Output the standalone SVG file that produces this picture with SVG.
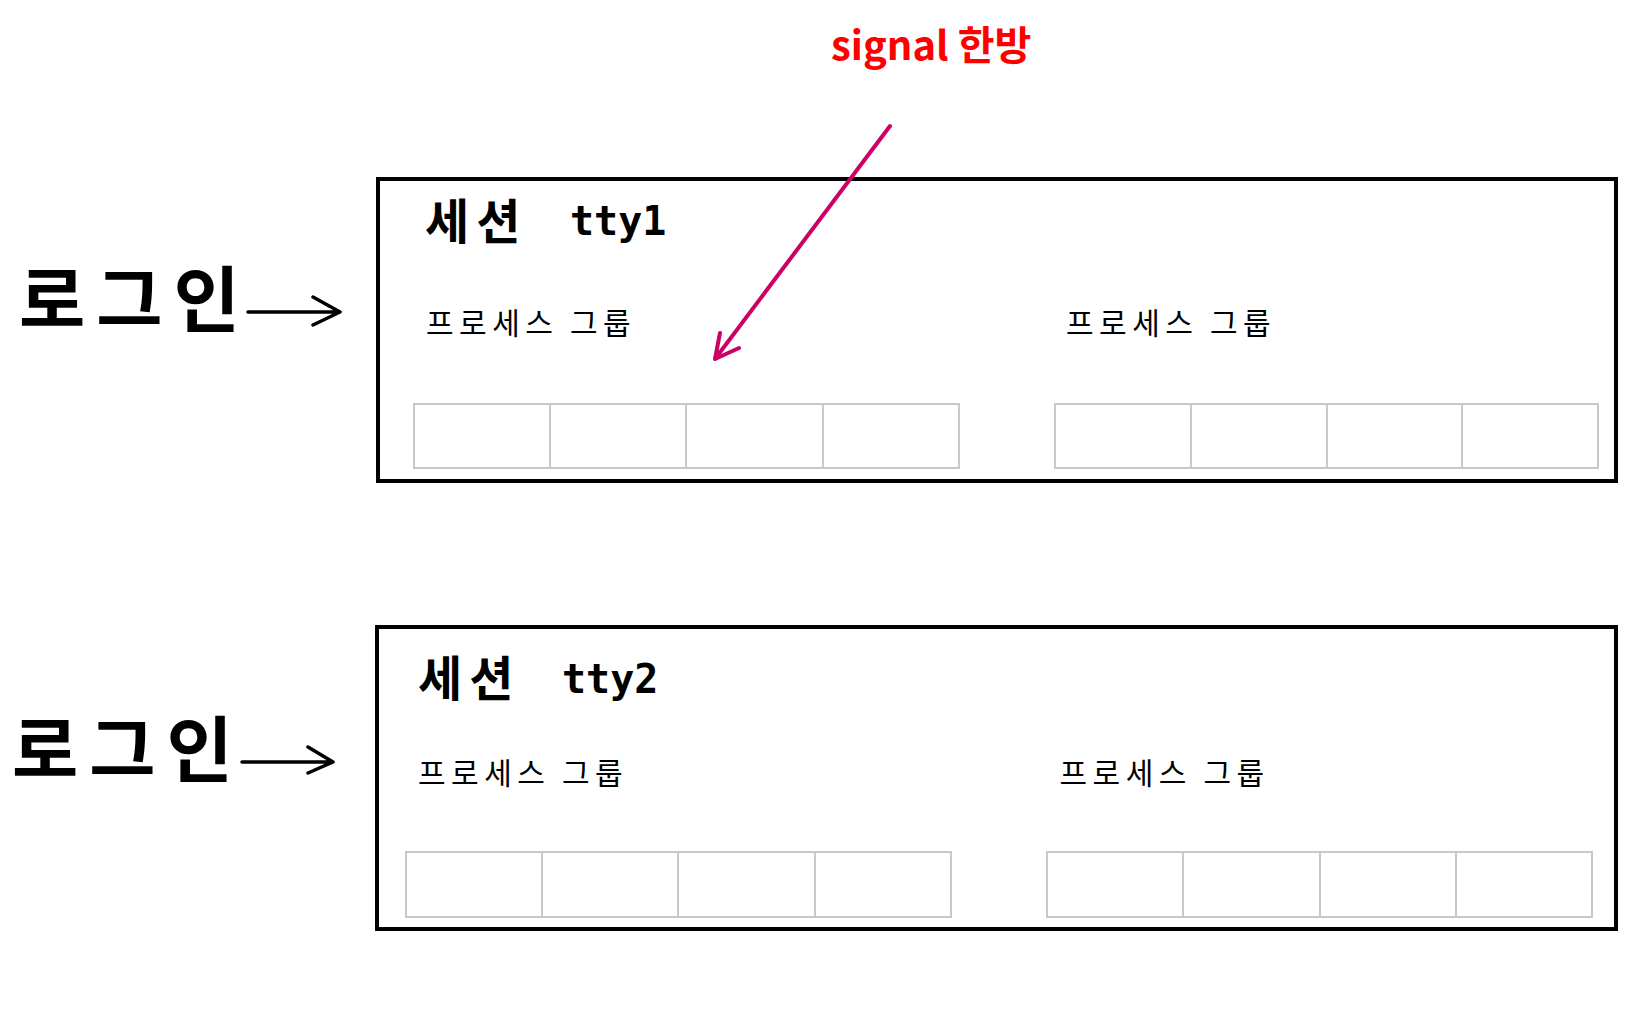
<svg xmlns="http://www.w3.org/2000/svg" width="1636" height="1020" viewBox="0 0 1636 1020">
<style>
.login{font-family:"Noto Sans CJK KR","Noto Sans",sans-serif;font-weight:700;font-size:72px;letter-spacing:11px;fill:#000}
.title{font-family:"Noto Sans CJK KR","Noto Sans",sans-serif;font-weight:700;font-size:48px;letter-spacing:7px;fill:#000}
.tty{font-family:"DejaVu Sans Mono","Liberation Mono",monospace;font-weight:700;font-size:40px;fill:#000}
.pg{font-family:"Noto Sans CJK KR","Noto Sans",sans-serif;font-weight:400;font-size:30px;letter-spacing:5.5px;fill:#000}
.sig{font-family:"Noto Sans CJK KR","Noto Sans",sans-serif;font-weight:700;font-size:40px;fill:#FF0000}
.session{fill:#fff;stroke:#000;stroke-width:4}
.cell{fill:#fff;stroke:#C8C8C8;stroke-width:2}
.arr{fill:none;stroke:#000;stroke-width:3.5;stroke-linecap:round;stroke-linejoin:round}
.sigarr{fill:none;stroke:#CC0066;stroke-width:4;stroke-linecap:round;stroke-linejoin:round}
</style>
<rect width="1636" height="1020" fill="#fff"/>

<g id="login1">
<text class="login" x="19" y="326">로그인</text>
</g>
<g id="login2">
<text class="login" x="12" y="776">로그인</text>
</g>

<g id="session1">
<rect class="session" x="378" y="179" width="1238" height="302"/>
<text class="title" x="425" y="239">세션</text>
<text class="tty" x="570" y="235">tty1</text>
<g id="pg1a">
<text class="pg" x="426" y="334">프로세스</text>
<text class="pg" x="570" y="334">그룹</text>
<rect class="cell" x="414" y="404" width="136" height="64"/>
<rect class="cell" x="550" y="404" width="136" height="64"/>
<rect class="cell" x="686" y="404" width="137" height="64"/>
<rect class="cell" x="823" y="404" width="136" height="64"/>
</g>
<g id="pg1b">
<text class="pg" x="1066" y="334">프로세스</text>
<text class="pg" x="1210" y="334">그룹</text>
<rect class="cell" x="1055" y="404" width="136" height="64"/>
<rect class="cell" x="1191" y="404" width="136" height="64"/>
<rect class="cell" x="1327" y="404" width="135" height="64"/>
<rect class="cell" x="1462" y="404" width="136" height="64"/>
</g>
</g>

<g id="session2">
<rect class="session" x="377" y="627" width="1239" height="302"/>
<text class="title" x="418" y="696">세션</text>
<text class="tty" x="562" y="693">tty2</text>
<g id="pg2a">
<text class="pg" x="418" y="784">프로세스</text>
<text class="pg" x="562" y="784">그룹</text>
<rect class="cell" x="406" y="852" width="136" height="65"/>
<rect class="cell" x="542" y="852" width="136" height="65"/>
<rect class="cell" x="678" y="852" width="137" height="65"/>
<rect class="cell" x="815" y="852" width="136" height="65"/>
</g>
<g id="pg2b">
<text class="pg" x="1059.5" y="784">프로세스</text>
<text class="pg" x="1203.5" y="784">그룹</text>
<rect class="cell" x="1047" y="852" width="136" height="65"/>
<rect class="cell" x="1183" y="852" width="137" height="65"/>
<rect class="cell" x="1320" y="852" width="136" height="65"/>
<rect class="cell" x="1456" y="852" width="136" height="65"/>
</g>
</g>

<g id="signal">
<text class="sig" x="831" y="60">signal 한방</text>
</g>

<g id="connectors">
<path class="arr" d="M248 312 H340 M313 297 L340 312 L313 325"/>
<path class="arr" d="M242 762 H333 M308 747 L333 762 L308 773"/>
<path class="sigarr" d="M890 126 L715 359 M720 333 L715 359 L739 348"/>
</g>
</svg>
